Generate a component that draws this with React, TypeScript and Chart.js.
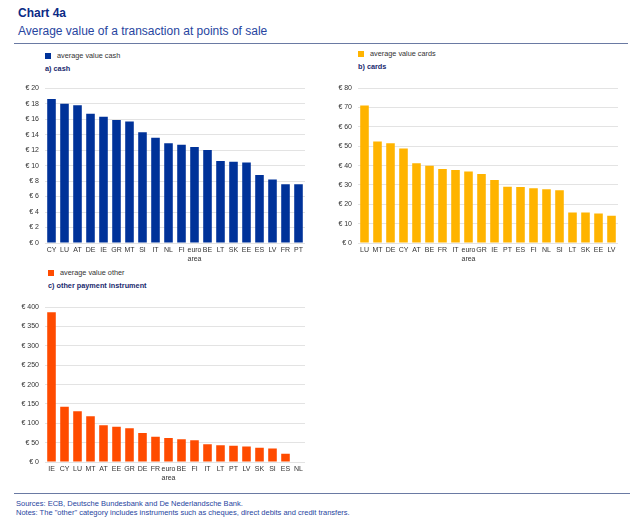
import React, { useEffect, useRef } from "react";
import { Chart, registerables } from "chart.js";
Chart.register(...registerables);

const cashCategories = ["CY","LU","AT","DE","IE","GR","MT","SI","IT","NL","FI","euro area","BE","LT","SK","EE","ES","LV","FR","PT"];
const cashValues = [18.6,18.0,17.8,16.7,16.3,15.9,15.7,14.3,13.6,12.9,12.7,12.4,12.0,10.6,10.5,10.4,8.8,8.2,7.6,7.6];

const cardCategories = ["LU","MT","DE","CY","AT","BE","FR","IT","euro area","GR","IE","PT","ES","FI","NL","SI","LT","SK","EE","LV"];
const cardValues = [71.0,52.5,51.5,48.8,41.2,39.9,38.2,37.7,36.9,35.7,32.5,29.1,29.0,28.3,27.8,27.3,15.8,15.7,15.3,14.1];

const otherCategories = ["IE","CY","LU","MT","AT","EE","GR","DE","FR","euro area","BE","FI","IT","LT","PT","LV","SK","SI","ES","NL"];
const otherValues = [387,143,131,118,95,91,87,75,65,62,59,56,46,43,42,40,37,35,21,0];

const FONT = "'Liberation Sans', Arial, sans-serif";
const NAVY = "#1a2a6e";

function BarPanel(props: { categories: string[]; values: number[]; color: string; max: number; step: number; left: number; top: number }) {
  const ref = useRef<HTMLCanvasElement | null>(null);
  useEffect(() => {
    if (!ref.current) return;
    const labels = props.categories.map((c) => (c === "euro area" ? ["euro", "area"] : c));
    const chart = new Chart(ref.current, {
      type: "bar",
      data: {
        labels,
        datasets: [
          {
            data: props.values,
            backgroundColor: props.color,
            barPercentage: 0.66,
            categoryPercentage: 1,
          },
        ],
      },
      options: {
        animation: false,
        responsive: false,
        maintainAspectRatio: false,
        layout: { padding: { top: 5, right: 2, bottom: 0, left: 0 } },
        plugins: { legend: { display: false }, tooltip: { enabled: false } },
        scales: {
          x: {
            grid: { display: false, drawTicks: false },
            border: { display: false },
            ticks: {
              autoSkip: false,
              maxRotation: 0,
              minRotation: 0,
              padding: 3,
              color: "#333",
              font: { family: FONT, size: 7, lineHeight: 1.2 },
            },
            afterFit: (s: any) => { s.height = 28; },
          },
          y: {
            min: 0,
            max: props.max,
            grid: { color: "#e3e3e3", drawTicks: false, lineWidth: 1 },
            border: { display: false },
            ticks: {
              stepSize: props.step,
              padding: 6,
              color: "#333",
              font: { family: FONT, size: 7 },
              callback: (v: any) => "€ " + v,
            },
            afterFit: (s: any) => { s.width = 35; },
          },
        },
      },
    });
    return () => chart.destroy();
  }, []);
  return (
    <canvas
      ref={ref}
      width={297}
      height={193}
      style={{ position: "absolute", left: props.left, top: props.top, width: 297, height: 193 }}
    />
  );
}

function Legend(props: { left: number; top: number; color: string; label: string; panel: string }) {
  return (
    <>
      <div style={{ position: "absolute", left: props.left, top: props.top, width: 6, height: 6, background: props.color }} />
      <div style={{ position: "absolute", left: props.left + 12, top: props.top - 2, fontFamily: FONT, fontSize: 7.3, color: "#333", whiteSpace: "nowrap" }}>{props.label}</div>
      <div style={{ position: "absolute", left: props.left, top: props.top + 11, fontFamily: FONT, fontSize: 7.3, fontWeight: "bold", color: NAVY, whiteSpace: "nowrap" }}>{props.panel}</div>
    </>
  );
}

export default function App() {
  return (
    <div style={{ position: "fixed", left: 0, top: 0, width: 638, height: 532, background: "#fff", overflow: "hidden" }}>
      <div style={{ position: "absolute", left: 18, top: 6, fontFamily: FONT, fontSize: 12, fontWeight: "bold", color: "#0b2a86" }}>Chart 4a</div>
      <div style={{ position: "absolute", left: 18, top: 24, fontFamily: FONT, fontSize: 12, color: "#2745a0" }}>Average value of a transaction at points of sale</div>
      <div style={{ position: "absolute", left: 14, top: 43, width: 614, height: 1, background: "#6a7aa3" }} />

      <Legend left={45} top={53} color="#003299" label="average value cash" panel="a) cash" />
      <Legend left={358} top={51} color="#ffb400" label="average value cards" panel="b) cards" />
      <Legend left={48} top={270} color="#ff4b00" label="average value other" panel="c) other payment instrument" />

      <BarPanel categories={cashCategories} values={cashValues} color="#003299" max={20} step={2} left={10} top={78} />
      <BarPanel categories={cardCategories} values={cardValues} color="#ffb400" max={80} step={10} left={323} top={78} />
      <BarPanel categories={otherCategories} values={otherValues} color="#ff4b00" max={400} step={50} left={10} top={297} />

      <div style={{ position: "absolute", left: 14, top: 493, width: 616, height: 1, background: "#6a7aa3" }} />
      <div style={{ position: "absolute", left: 16, top: 499, fontFamily: FONT, fontSize: 7.5, color: "#2745a0", lineHeight: "9px" }}>
        Sources: ECB, Deutsche Bundesbank and De Nederlandsche Bank.<br />
        Notes: The "other" category includes instruments such as cheques, direct debits and credit transfers.
      </div>
    </div>
  );
}
